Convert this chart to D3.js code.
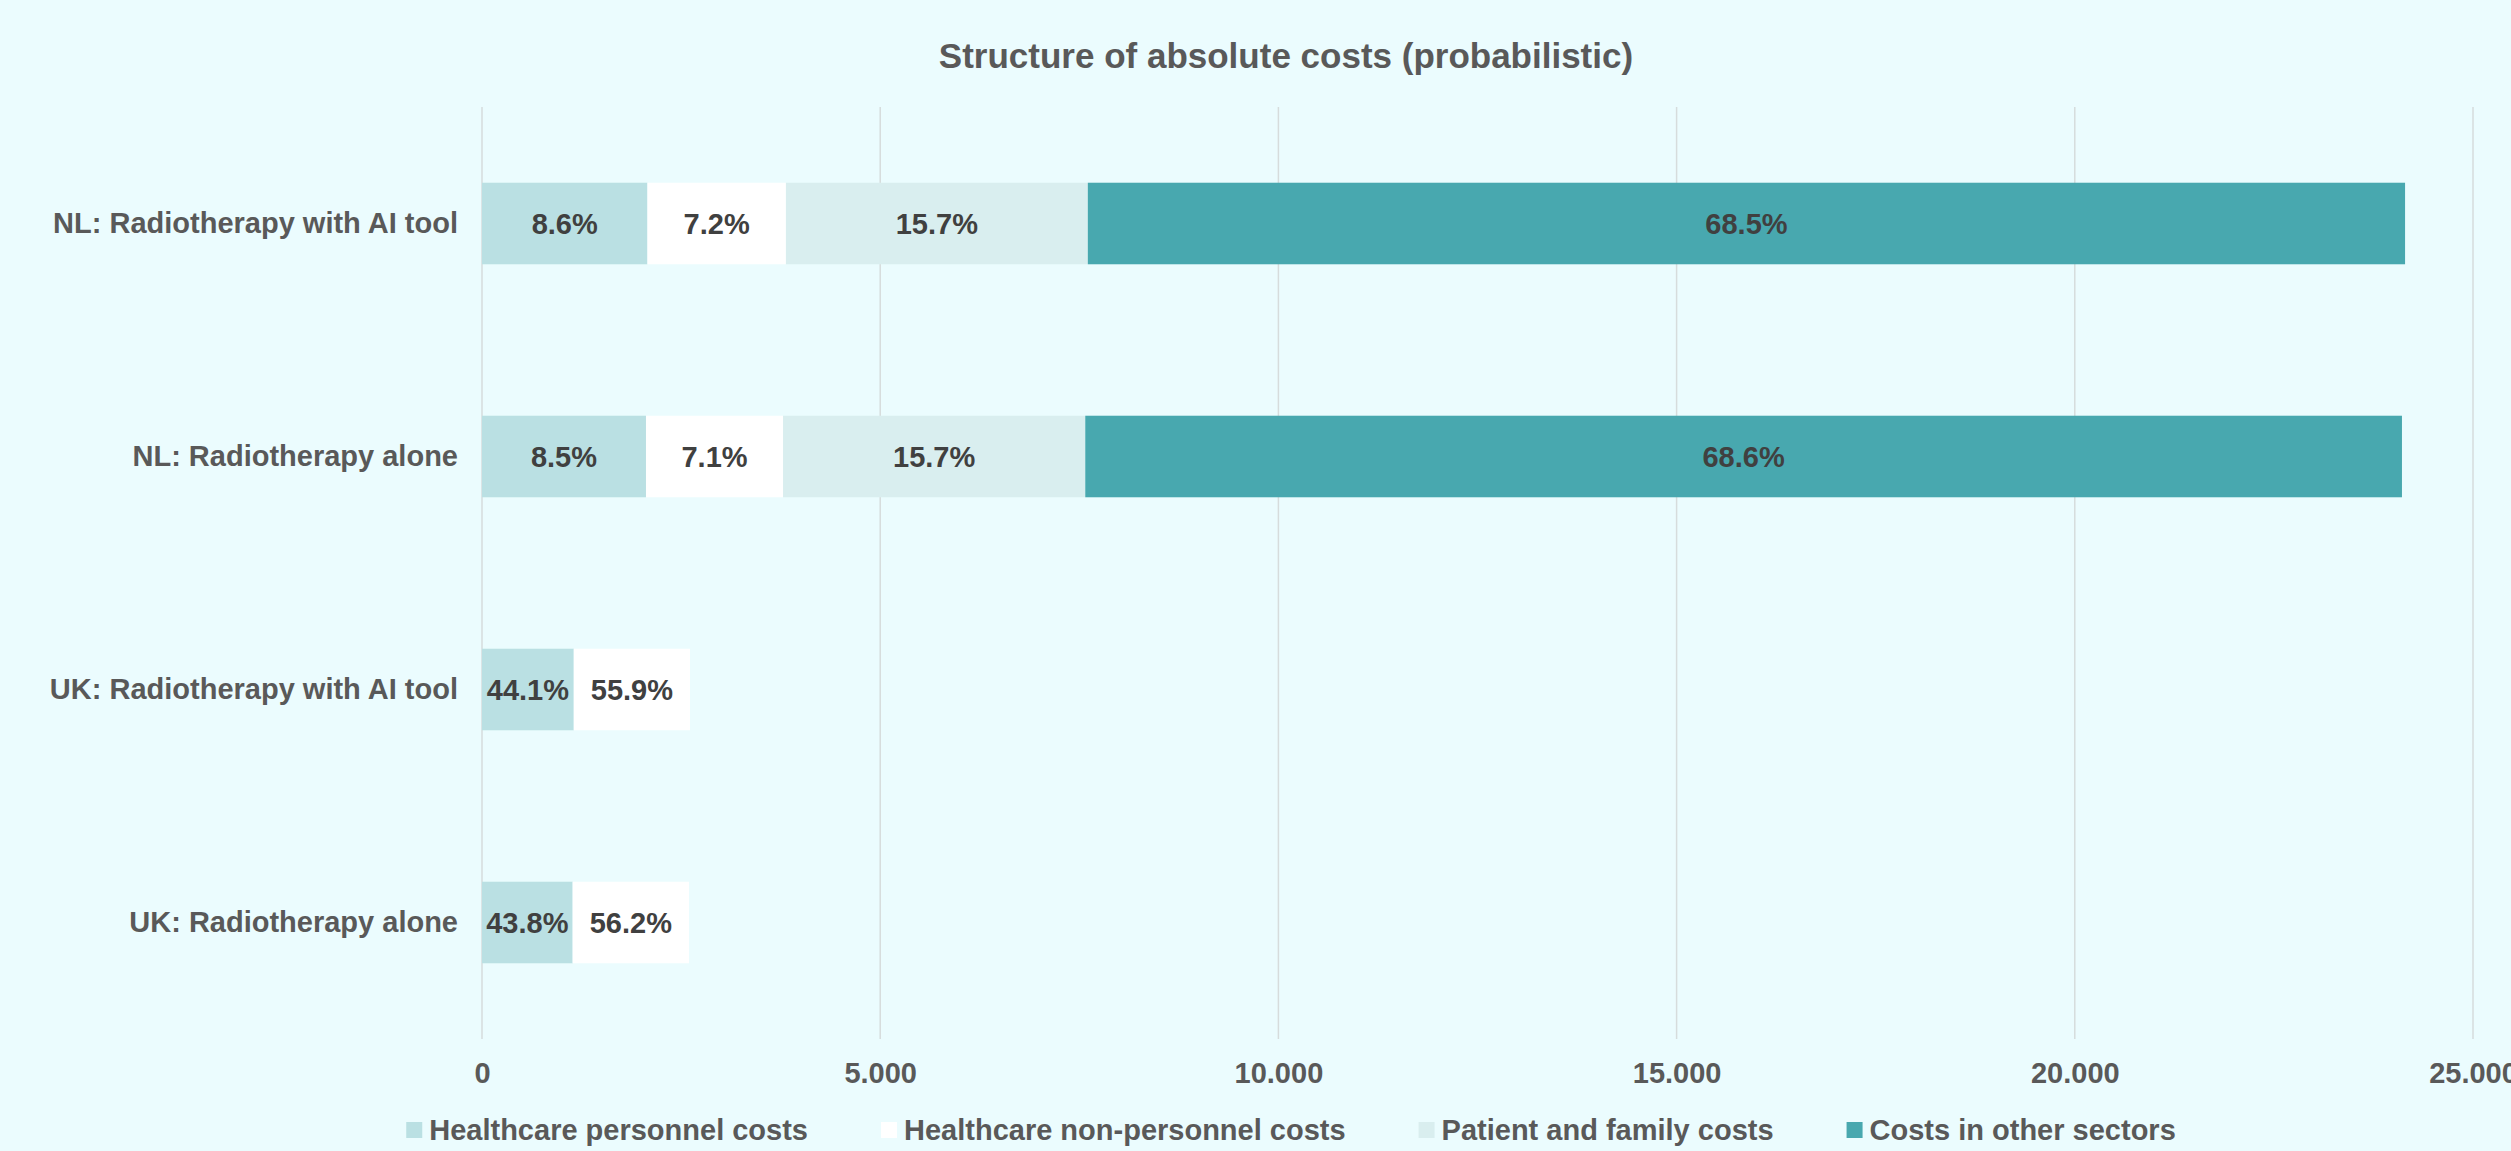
<!DOCTYPE html>
<html>
<head>
<meta charset="utf-8">
<script src="https://cdn.jsdelivr.net/npm/d3@7"></script>
<style>
  html, body { margin: 0; padding: 0; background: #ebfcfe; }
  svg { display: block; }
  text { font-family: "Liberation Sans", Arial, sans-serif; font-weight: bold; }
</style>
</head>
<body>
<svg id="chart" width="2511" height="1151"></svg>
<script>
// ---- data ----
const categories = [
  "NL: Radiotherapy with AI tool",
  "NL: Radiotherapy alone",
  "UK: Radiotherapy with AI tool",
  "UK: Radiotherapy alone"
];
const seriesNames = [
  "Healthcare personnel costs",
  "Healthcare non-personnel costs",
  "Patient and family costs",
  "Costs in other sectors"
];
const personnelCosts    = [2077, 2059, 1152, 1138];
const nonPersonnelCosts = [1739, 1721, 1460, 1461];
const patientFamilyCosts = [3791, 3795, 0, 0];
const otherSectorCosts  = [16540, 16533, 0, 0];
const xTicks = [0, 5000, 10000, 15000, 20000, 25000];
const title = "Structure of absolute costs (probabilistic)";

// ---- styles ----
const colors = ["#bae0e3", "#ffffff", "#d9eeef", "#48a8af"];
const W = 2511, H = 1151;
const margin = { left: 482, right: W - 2473, top: 107, bottom: H - 1039 };

const rows = categories.map((c, i) => ({
  category: c,
  s0: personnelCosts[i],
  s1: nonPersonnelCosts[i],
  s2: patientFamilyCosts[i],
  s3: otherSectorCosts[i]
}));
const keys = ["s0", "s1", "s2", "s3"];
const stacked = d3.stack().keys(keys)(rows);

const svg = d3.select("#chart");
svg.append("rect").attr("width", W).attr("height", H).attr("fill", "#ebfcfe");

const x = d3.scaleLinear().domain([0, 25000]).range([margin.left, W - margin.right]);
const y = d3.scaleBand().domain(categories).range([margin.top, H - margin.bottom])
  .paddingInner(0.65).paddingOuter(0.325);

const locale = d3.formatLocale({ decimal: ",", thousands: ".", grouping: [3], currency: ["", "€"] });
const fmt = locale.format(",");
const pct = d3.format(".1%");

// title
svg.append("text")
  .attr("x", 1286).attr("y", 68)
  .attr("text-anchor", "middle")
  .attr("fill", "#595959")
  .style("font-size", "35px")
  .text(title);

// gridlines
svg.append("g").selectAll("line").data(xTicks).join("line")
  .attr("x1", d => x(d)).attr("x2", d => x(d))
  .attr("y1", margin.top).attr("y2", H - margin.bottom)
  .attr("stroke", "#d6dcdc").attr("stroke-width", 1.5);

// x axis labels
const xAxis = d3.axisBottom(x).tickValues(xTicks).tickFormat(fmt).tickSize(0).tickPadding(0);
const gx = svg.append("g").attr("transform", `translate(0, ${H - margin.bottom})`).call(xAxis);
gx.select(".domain").remove();
gx.selectAll("text")
  .attr("y", 44).attr("dy", 0)
  .attr("fill", "#595959")
  .style("font-size", "29px")
  .style("font-family", "'Liberation Sans', Arial, sans-serif")
  .style("font-weight", "bold");

// y axis labels
const yAxis = d3.axisLeft(y).tickSize(0).tickPadding(24);
const gy = svg.append("g").attr("transform", `translate(${margin.left}, 0)`).call(yAxis);
gy.select(".domain").remove();
gy.selectAll("text")
  .attr("fill", "#595959")
  .style("font-size", "29px")
  .style("font-family", "'Liberation Sans', Arial, sans-serif")
  .style("font-weight", "bold");

// bars
const layer = svg.append("g").selectAll("g").data(stacked).join("g")
  .attr("fill", (d, i) => colors[i]);
layer.selectAll("rect").data(d => d.filter(p => p[1] - p[0] > 0)).join("rect")
  .attr("x", p => x(p[0]))
  .attr("width", p => x(p[1]) - x(p[0]))
  .attr("y", p => y(p.data.category))
  .attr("height", y.bandwidth());

// labels
const labels = svg.append("g");
stacked.forEach((s, si) => {
  s.forEach(p => {
    const v = p[1] - p[0];
    if (v <= 0) return;
    const total = keys.reduce((a, k) => a + p.data[k], 0);
    labels.append("text")
      .attr("x", (x(p[0]) + x(p[1])) / 2)
      .attr("y", y(p.data.category) + y.bandwidth() / 2)
      .attr("dy", "0.35em")
      .attr("text-anchor", "middle")
      .attr("fill", "#404040")
      .style("font-size", "29px")
      .text(pct(v / total));
  });
});

// legend
const legend = svg.append("g");
const items = seriesNames.map((name, i) => {
  const g = legend.append("g");
  g.append("rect").attr("x", 0).attr("y", -8).attr("width", 16).attr("height", 16).attr("fill", colors[i]);
  const t = g.append("text").attr("x", 23).attr("y", 0).attr("dy", "0.35em")
    .attr("fill", "#595959").style("font-size", "29px").text(name);
  return { g, w: 23 + t.node().getComputedTextLength() };
});
const gap = 73;
const totalW = d3.sum(items, d => d.w) + gap * (items.length - 1);
let cx = 1291 - totalW / 2;
items.forEach(it => {
  it.g.attr("transform", `translate(${cx}, 1130)`);
  cx += it.w + gap;
});
</script>
</body>
</html>
